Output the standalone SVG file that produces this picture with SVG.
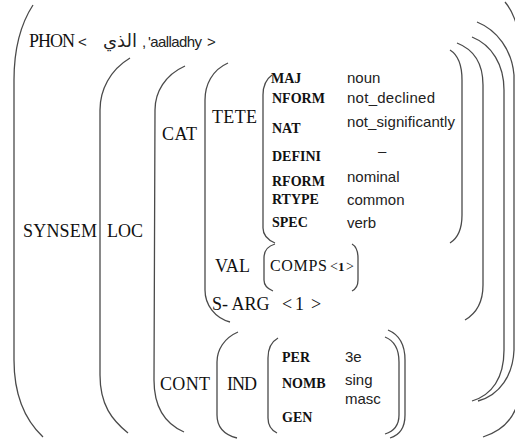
<svg xmlns="http://www.w3.org/2000/svg" width="515" height="439" viewBox="0 0 515 439">
<style>
.br{fill:none;stroke:#4a4a4a;stroke-width:1.3}
.f{font-family:"Liberation Serif","Times New Roman",serif;font-size:18px;fill:#111}
.a{font-family:"Liberation Serif","Times New Roman",serif;font-size:14px;font-weight:bold;fill:#111}
.v{font-family:"Liberation Sans",Arial,sans-serif;font-size:15px;fill:#222}
.ar{font-family:"DejaVu Sans",sans-serif;font-size:18px;fill:#222}
</style>
<rect width="515" height="439" fill="#fff"/>
<g id="brackets">
<path class="br" d="M33,5 C20,25 14,50 14,80 L14,360 C14,395 25,420 43,437"/>
<path class="br" d="M130,58 C110,70 100,90 100,110 L100,375 C100,405 112,420 128,433"/>
<path class="br" d="M185,66 C165,75 155,92 155,110 L154,380 C154,410 168,425 184,432"/>
<path class="br" d="M228,63 C212,70 205,85 205,100 L205,290 C205,305 215,318 230,322"/>
<path class="br" d="M272,75 C265,80 263,88 263,95 L263,228 C263,236 268,240 275,243"/>
<path class="br" d="M275,244 C268,246 264,250 264,258 L264,280 C264,285 268,289 273,291"/>
<path class="br" d="M238,332 C224,338 217,350 217,362 L217,415 C217,428 225,435 237,438"/>
<path class="br" d="M278,338 C271,342 268,350 268,358 L268,418 C268,426 271,430 277,433"/>
<path class="br" d="M352,244 C357,247 358,252 358,258 L358,280 C358,286 356,289 352,291"/>
<path class="br" d="M450,50 C458,55 462,65 462,80 L462,215 C462,230 458,238 450,243"/>
<path class="br" d="M457,43 C475,50 483,65 483,85 L483,285 C483,300 477,313 465,320"/>
<path class="br" d="M472,37 C492,45 504,65 504,90 L504,350 C504,378 492,395 472,401"/>
<path class="br" d="M477,22 C497,30 512,50 514,75 L514,350 C513,375 500,395 478,401"/>
<path class="br" d="M505,2 C512,10 518,25 520,40 L520,390 C518,415 505,430 483,437"/>
<path class="br" d="M388,330 C400,335 405,345 405,360 L405,415 C405,428 400,435 390,438"/>
<path class="br" d="M385,337 C395,341 399,350 399,362 L399,415 C399,425 395,431 385,434"/>
</g>
<g id="phon">
<text class="f" x="29" y="47" textLength="46">PHON</text>
<text class="v" x="78" y="47">&lt;</text>
<text class="ar" x="120" y="47" text-anchor="middle">الذي</text>
<text class="v" x="142" y="47">,</text>
<text class="v" x="148" y="47" textLength="54">'aalladhy</text>
<text class="v" x="207" y="47">&gt;</text>
</g>
<g id="synsem"><text class="f" x="23" y="237" textLength="74">SYNSEM</text></g>
<g id="loc"><text class="f" x="107" y="237" textLength="36">LOC</text></g>
<g id="cat"><text class="f" x="162" y="140" textLength="35">CAT</text></g>
<g id="tete"><text class="f" x="212" y="123" textLength="45">TETE</text></g>
<g id="head-features">
<text class="a" x="271" y="83">MAJ</text>
<text class="a" x="272" y="103">NFORM</text>
<text class="a" x="272" y="133">NAT</text>
<text class="a" x="272" y="161">DEFINI</text>
<text class="a" x="272" y="186">RFORM</text>
<text class="a" x="272" y="204">RTYPE</text>
<text class="a" x="272" y="227">SPEC</text>
<text class="v" x="347" y="83">noun</text>
<text class="v" x="347" y="103" textLength="88">not_declined</text>
<text class="v" x="347" y="127" textLength="108">not_significantly</text>
<text class="v" x="378" y="156">–</text>
<text class="v" x="347" y="182">nominal</text>
<text class="v" x="347" y="205">common</text>
<text class="v" x="347" y="228">verb</text>
</g>
<g id="val">
<text class="f" x="215" y="272" textLength="35">VAL</text>
<text class="f" x="270" y="271" textLength="57" style="font-size:16px">COMPS</text>
<text class="f" x="330" y="271" style="font-size:14px">&lt;</text>
<text class="a" x="338" y="271" style="font-size:13px">1</text>
<text class="f" x="346" y="271" style="font-size:14px">&gt;</text>
</g>
<g id="s-arg">
<text class="f" x="212" y="310">S- ARG</text>
<text class="f" x="282" y="310">&lt;</text>
<text class="f" x="295" y="310">1</text>
<text class="f" x="311" y="310">&gt;</text>
</g>
<g id="cont"><text class="f" x="160" y="390" textLength="50">CONT</text></g>
<g id="ind"><text class="f" x="227" y="390" textLength="30">IND</text></g>
<g id="index-features">
<text class="a" x="282" y="362">PER</text>
<text class="a" x="282" y="388">NOMB</text>
<text class="a" x="282" y="422">GEN</text>
<text class="v" x="345" y="362">3e</text>
<text class="v" x="345" y="385">sing</text>
<text class="v" x="345" y="404">masc</text>
</g>
</svg>
